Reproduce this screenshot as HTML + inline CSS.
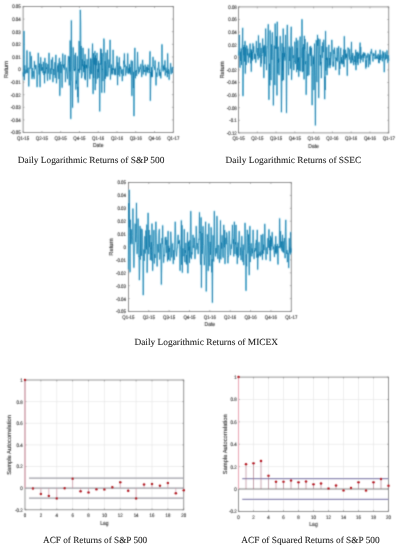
<!DOCTYPE html>
<html><head><meta charset="utf-8"><style>
html,body{margin:0;padding:0;background:#fff;width:400px;height:550px;overflow:hidden}
svg{display:block}
text{text-rendering:geometricPrecision}
</style></head><body>
<svg width="400" height="550" viewBox="0 0 400 550">
<defs><filter id="bl" x="0" y="0" width="400" height="550" filterUnits="userSpaceOnUse"><feConvolveMatrix order="3" kernelMatrix="0.02768 0.11101 0.02768 0.11101 0.44521 0.11101 0.02768 0.11101 0.02768" edgeMode="duplicate"/></filter></defs>
<rect width="400" height="550" fill="#fff"/>
<g filter="url(#bl)">
<rect x="23.1" y="6.5" width="150.20" height="126.00" fill="none" stroke="#7a7a7a" stroke-width="0.8"/>
<path d="M23.10,132.5v-1.5M23.10,6.5v1.5M41.88,132.5v-1.5M41.88,6.5v1.5M60.65,132.5v-1.5M60.65,6.5v1.5M79.43,132.5v-1.5M79.43,6.5v1.5M98.20,132.5v-1.5M98.20,6.5v1.5M116.98,132.5v-1.5M116.98,6.5v1.5M135.75,132.5v-1.5M135.75,6.5v1.5M154.53,132.5v-1.5M154.53,6.5v1.5M173.30,132.5v-1.5M173.30,6.5v1.5M23.1,6.50h1.5M173.3,6.50h-1.5M23.1,19.10h1.5M173.3,19.10h-1.5M23.1,31.70h1.5M173.3,31.70h-1.5M23.1,44.30h1.5M173.3,44.30h-1.5M23.1,56.90h1.5M173.3,56.90h-1.5M23.1,69.50h1.5M173.3,69.50h-1.5M23.1,82.10h1.5M173.3,82.10h-1.5M23.1,94.70h1.5M173.3,94.70h-1.5M23.1,107.30h1.5M173.3,107.30h-1.5M23.1,119.90h1.5M173.3,119.90h-1.5M23.1,132.50h1.5M173.3,132.50h-1.5" stroke="#7a7a7a" stroke-width="0.5" fill="none"/>
<polyline points="23.10,72.45 23.40,76.51 23.70,56.94 23.99,31.25 24.29,80.00 24.59,73.87 24.89,65.35 25.19,73.83 25.48,72.12 25.78,71.53 26.08,69.69 26.38,72.99 26.68,60.48 26.97,50.60 27.27,62.20 27.57,73.03 27.87,69.74 28.17,67.75 28.46,74.12 28.76,86.25 29.06,75.72 29.36,67.88 29.66,68.41 29.95,51.90 30.25,55.13 30.55,60.03 30.85,68.67 31.15,64.65 31.44,56.25 31.74,71.59 32.04,78.75 32.34,69.23 32.64,68.14 32.93,76.66 33.23,71.71 33.53,71.71 33.83,71.23 34.13,78.75 34.42,61.25 34.72,67.13 35.02,64.90 35.32,66.77 35.62,69.19 35.91,65.24 36.21,69.03 36.51,69.98 36.81,74.48 37.11,86.90 37.40,76.89 37.70,74.59 38.00,65.52 38.30,53.10 38.60,67.13 38.89,66.63 39.19,74.44 39.49,63.57 39.79,78.18 40.09,86.90 40.38,66.06 40.68,57.50 40.98,65.21 41.28,70.85 41.58,64.70 41.88,64.14 42.17,70.46 42.47,67.29 42.77,70.60 43.07,73.02 43.37,61.94 43.66,70.65 43.96,74.99 44.26,71.41 44.56,83.10 44.86,58.10 45.15,67.22 45.45,73.39 45.75,67.99 46.05,63.00 46.35,69.01 46.64,67.52 46.94,72.95 47.24,74.74 47.54,80.60 47.84,64.08 48.13,73.54 48.43,72.64 48.73,60.80 49.03,53.10 49.33,63.18 49.62,72.17 49.92,79.40 50.22,74.00 50.52,69.09 50.82,68.37 51.11,74.08 51.41,59.77 51.71,68.90 52.01,69.64 52.31,63.39 52.60,57.50 52.90,81.90 53.20,76.73 53.50,68.94 53.80,72.51 54.09,75.06 54.39,71.27 54.69,65.41 54.99,62.33 55.29,77.90 55.58,63.13 55.88,55.00 56.18,71.83 56.48,83.10 56.78,76.62 57.07,69.68 57.37,69.57 57.67,65.54 57.97,72.18 58.27,63.43 58.56,73.52 58.86,78.96 59.16,59.79 59.46,58.10 59.76,95.60 60.05,85.77 60.35,63.21 60.65,61.75 60.95,73.09 61.25,64.45 61.54,66.51 61.84,74.29 62.14,87.50 62.44,67.66 62.74,53.75 63.03,65.58 63.33,64.94 63.63,67.81 63.93,64.60 64.23,69.53 64.52,63.99 64.82,64.30 65.12,55.00 65.42,81.90 65.72,74.62 66.01,71.76 66.31,67.67 66.61,68.53 66.91,71.27 67.21,73.56 67.50,78.75 67.80,73.22 68.10,62.75 68.40,56.25 68.70,62.99 68.99,66.19 69.29,85.28 69.59,56.65 69.89,71.45 70.19,40.62 70.48,81.31 70.78,118.75 71.08,64.34 71.38,20.60 71.68,60.96 71.97,80.44 72.27,82.01 72.57,107.50 72.87,69.60 73.17,47.50 73.46,65.07 73.76,68.75 74.06,70.59 74.36,69.21 74.66,71.11 74.95,54.76 75.25,70.07 75.55,53.00 75.85,89.40 76.15,80.59 76.44,83.81 76.74,75.39 77.04,71.60 77.34,56.29 77.64,97.02 77.93,86.82 78.23,102.50 78.53,68.86 78.83,71.06 79.13,41.10 79.43,72.64 79.72,60.80 80.02,60.08 80.32,10.00 80.62,21.90 80.92,70.17 81.21,45.98 81.51,77.99 81.81,76.25 82.11,75.22 82.41,59.35 82.70,66.25 83.00,48.00 83.30,59.18 83.60,72.17 83.90,64.79 84.19,69.34 84.49,61.05 84.79,78.72 85.09,54.40 85.39,80.00 85.68,73.51 85.98,64.68 86.28,67.64 86.58,64.94 86.88,68.38 87.17,59.29 87.47,86.90 87.77,73.45 88.07,66.56 88.37,61.21 88.66,48.75 88.96,67.17 89.26,66.83 89.56,71.73 89.86,78.75 90.15,65.21 90.45,58.61 90.75,74.21 91.05,58.61 91.35,62.05 91.64,73.26 91.94,73.89 92.24,56.18 92.54,43.75 92.84,76.84 93.13,93.75 93.43,53.06 93.73,78.18 94.03,61.86 94.33,57.65 94.62,64.60 94.92,51.25 95.22,90.00 95.52,55.37 95.82,83.60 96.11,64.81 96.41,58.30 96.71,65.22 97.01,53.00 97.31,78.75 97.60,70.42 97.90,68.93 98.20,72.08 98.50,60.95 98.80,77.91 99.09,63.24 99.39,76.36 99.69,111.25 99.99,83.70 100.29,59.35 100.58,48.75 100.88,64.84 101.18,49.17 101.48,56.56 101.78,92.50 102.07,53.02 102.37,69.85 102.67,68.81 102.97,81.02 103.27,57.56 103.56,54.90 103.86,38.75 104.16,42.93 104.46,92.50 104.76,75.45 105.05,61.05 105.35,78.84 105.65,69.10 105.95,52.73 106.25,74.98 106.54,76.39 106.84,66.17 107.14,61.34 107.44,50.00 107.74,76.25 108.03,72.32 108.33,70.83 108.63,64.84 108.93,59.57 109.23,67.84 109.52,62.87 109.82,61.62 110.12,40.00 110.42,79.40 110.72,74.12 111.01,71.27 111.31,64.57 111.61,73.42 111.91,74.53 112.21,67.93 112.50,73.75 112.80,64.64 113.10,50.00 113.40,59.36 113.70,70.05 113.99,68.37 114.29,74.13 114.59,69.50 114.89,75.00 115.19,72.89 115.48,68.40 115.78,74.94 116.08,67.03 116.38,66.26 116.68,65.21 116.98,56.25 117.27,71.04 117.57,85.00 117.87,62.43 118.17,75.06 118.47,69.20 118.76,67.25 119.06,65.57 119.36,57.50 119.66,76.25 119.96,66.15 120.25,66.45 120.55,68.86 120.85,67.65 121.15,72.95 121.45,73.81 121.74,69.56 122.04,75.01 122.34,81.00 122.64,73.67 122.94,69.38 123.23,71.41 123.53,75.76 123.83,60.67 124.13,64.33 124.43,53.60 124.72,67.17 125.02,64.74 125.32,67.74 125.62,75.40 125.92,71.68 126.21,69.78 126.51,66.44 126.81,67.28 127.11,73.18 127.41,65.43 127.70,53.60 128.00,67.20 128.30,71.42 128.60,73.57 128.90,67.91 129.19,73.45 129.49,64.38 129.79,72.28 130.09,67.08 130.39,72.87 130.68,74.58 130.98,65.66 131.28,60.60 131.58,78.82 131.88,95.70 132.17,83.13 132.47,61.10 132.77,72.94 133.07,75.55 133.37,88.07 133.66,71.80 133.96,116.00 134.26,85.19 134.56,57.88 134.86,48.00 135.15,69.08 135.45,78.20 135.75,71.00 136.05,71.88 136.35,70.01 136.64,75.95 136.94,69.49 137.24,67.01 137.54,52.20 137.84,63.62 138.13,69.13 138.43,73.77 138.73,71.62 139.03,66.81 139.33,71.88 139.62,72.12 139.92,69.13 140.22,68.67 140.52,68.89 140.82,64.31 141.11,70.06 141.41,70.18 141.71,76.80 142.01,71.52 142.31,63.69 142.60,60.00 142.90,65.03 143.20,74.35 143.50,65.69 143.80,70.81 144.09,71.64 144.39,70.34 144.69,72.06 144.99,67.39 145.29,64.82 145.58,71.03 145.88,75.40 146.18,68.82 146.48,66.77 146.78,72.20 147.07,71.94 147.37,67.29 147.67,72.50 147.97,64.80 148.27,68.94 148.56,69.76 148.86,68.45 149.16,73.03 149.46,71.46 149.76,60.62 150.05,51.50 150.35,100.60 150.65,83.80 150.95,71.95 151.25,77.25 151.54,67.14 151.84,76.66 152.14,70.12 152.44,76.80 152.74,64.35 153.03,57.10 153.33,65.85 153.63,65.85 153.93,65.74 154.23,67.63 154.53,67.21 154.82,69.92 155.12,60.60 155.42,69.42 155.72,74.97 156.02,85.20 156.31,75.99 156.61,72.64 156.91,76.87 157.21,72.58 157.51,68.58 157.80,69.62 158.10,68.00 158.40,67.14 158.70,62.00 159.00,70.12 159.29,75.60 159.59,69.68 159.89,74.44 160.19,76.20 160.49,72.09 160.78,78.20 161.08,72.36 161.38,67.62 161.68,64.78 161.98,44.50 162.27,59.49 162.57,68.60 162.87,70.11 163.17,71.21 163.47,66.28 163.76,69.47 164.06,64.84 164.36,70.22 164.66,68.51 164.96,60.60 165.25,75.40 165.55,71.02 165.85,67.68 166.15,68.81 166.45,71.06 166.74,72.72 167.04,70.83 167.34,77.01 167.64,53.60 167.94,67.97 168.23,73.94 168.53,69.05 168.83,70.53 169.13,79.60 169.43,73.09 169.72,72.38 170.02,70.13 170.32,69.85 170.62,63.40 170.92,70.46 171.21,74.00 171.51,69.87 171.81,69.54 172.11,67.32 172.41,72.96 172.70,67.29 173.00,67.79 173.30,67.59" fill="none" stroke="#90d8f0" stroke-width="2.0" stroke-opacity="0.6" stroke-linejoin="round"/>
<polyline points="23.10,72.45 23.40,76.51 23.70,56.94 23.99,31.25 24.29,80.00 24.59,73.87 24.89,65.35 25.19,73.83 25.48,72.12 25.78,71.53 26.08,69.69 26.38,72.99 26.68,60.48 26.97,50.60 27.27,62.20 27.57,73.03 27.87,69.74 28.17,67.75 28.46,74.12 28.76,86.25 29.06,75.72 29.36,67.88 29.66,68.41 29.95,51.90 30.25,55.13 30.55,60.03 30.85,68.67 31.15,64.65 31.44,56.25 31.74,71.59 32.04,78.75 32.34,69.23 32.64,68.14 32.93,76.66 33.23,71.71 33.53,71.71 33.83,71.23 34.13,78.75 34.42,61.25 34.72,67.13 35.02,64.90 35.32,66.77 35.62,69.19 35.91,65.24 36.21,69.03 36.51,69.98 36.81,74.48 37.11,86.90 37.40,76.89 37.70,74.59 38.00,65.52 38.30,53.10 38.60,67.13 38.89,66.63 39.19,74.44 39.49,63.57 39.79,78.18 40.09,86.90 40.38,66.06 40.68,57.50 40.98,65.21 41.28,70.85 41.58,64.70 41.88,64.14 42.17,70.46 42.47,67.29 42.77,70.60 43.07,73.02 43.37,61.94 43.66,70.65 43.96,74.99 44.26,71.41 44.56,83.10 44.86,58.10 45.15,67.22 45.45,73.39 45.75,67.99 46.05,63.00 46.35,69.01 46.64,67.52 46.94,72.95 47.24,74.74 47.54,80.60 47.84,64.08 48.13,73.54 48.43,72.64 48.73,60.80 49.03,53.10 49.33,63.18 49.62,72.17 49.92,79.40 50.22,74.00 50.52,69.09 50.82,68.37 51.11,74.08 51.41,59.77 51.71,68.90 52.01,69.64 52.31,63.39 52.60,57.50 52.90,81.90 53.20,76.73 53.50,68.94 53.80,72.51 54.09,75.06 54.39,71.27 54.69,65.41 54.99,62.33 55.29,77.90 55.58,63.13 55.88,55.00 56.18,71.83 56.48,83.10 56.78,76.62 57.07,69.68 57.37,69.57 57.67,65.54 57.97,72.18 58.27,63.43 58.56,73.52 58.86,78.96 59.16,59.79 59.46,58.10 59.76,95.60 60.05,85.77 60.35,63.21 60.65,61.75 60.95,73.09 61.25,64.45 61.54,66.51 61.84,74.29 62.14,87.50 62.44,67.66 62.74,53.75 63.03,65.58 63.33,64.94 63.63,67.81 63.93,64.60 64.23,69.53 64.52,63.99 64.82,64.30 65.12,55.00 65.42,81.90 65.72,74.62 66.01,71.76 66.31,67.67 66.61,68.53 66.91,71.27 67.21,73.56 67.50,78.75 67.80,73.22 68.10,62.75 68.40,56.25 68.70,62.99 68.99,66.19 69.29,85.28 69.59,56.65 69.89,71.45 70.19,40.62 70.48,81.31 70.78,118.75 71.08,64.34 71.38,20.60 71.68,60.96 71.97,80.44 72.27,82.01 72.57,107.50 72.87,69.60 73.17,47.50 73.46,65.07 73.76,68.75 74.06,70.59 74.36,69.21 74.66,71.11 74.95,54.76 75.25,70.07 75.55,53.00 75.85,89.40 76.15,80.59 76.44,83.81 76.74,75.39 77.04,71.60 77.34,56.29 77.64,97.02 77.93,86.82 78.23,102.50 78.53,68.86 78.83,71.06 79.13,41.10 79.43,72.64 79.72,60.80 80.02,60.08 80.32,10.00 80.62,21.90 80.92,70.17 81.21,45.98 81.51,77.99 81.81,76.25 82.11,75.22 82.41,59.35 82.70,66.25 83.00,48.00 83.30,59.18 83.60,72.17 83.90,64.79 84.19,69.34 84.49,61.05 84.79,78.72 85.09,54.40 85.39,80.00 85.68,73.51 85.98,64.68 86.28,67.64 86.58,64.94 86.88,68.38 87.17,59.29 87.47,86.90 87.77,73.45 88.07,66.56 88.37,61.21 88.66,48.75 88.96,67.17 89.26,66.83 89.56,71.73 89.86,78.75 90.15,65.21 90.45,58.61 90.75,74.21 91.05,58.61 91.35,62.05 91.64,73.26 91.94,73.89 92.24,56.18 92.54,43.75 92.84,76.84 93.13,93.75 93.43,53.06 93.73,78.18 94.03,61.86 94.33,57.65 94.62,64.60 94.92,51.25 95.22,90.00 95.52,55.37 95.82,83.60 96.11,64.81 96.41,58.30 96.71,65.22 97.01,53.00 97.31,78.75 97.60,70.42 97.90,68.93 98.20,72.08 98.50,60.95 98.80,77.91 99.09,63.24 99.39,76.36 99.69,111.25 99.99,83.70 100.29,59.35 100.58,48.75 100.88,64.84 101.18,49.17 101.48,56.56 101.78,92.50 102.07,53.02 102.37,69.85 102.67,68.81 102.97,81.02 103.27,57.56 103.56,54.90 103.86,38.75 104.16,42.93 104.46,92.50 104.76,75.45 105.05,61.05 105.35,78.84 105.65,69.10 105.95,52.73 106.25,74.98 106.54,76.39 106.84,66.17 107.14,61.34 107.44,50.00 107.74,76.25 108.03,72.32 108.33,70.83 108.63,64.84 108.93,59.57 109.23,67.84 109.52,62.87 109.82,61.62 110.12,40.00 110.42,79.40 110.72,74.12 111.01,71.27 111.31,64.57 111.61,73.42 111.91,74.53 112.21,67.93 112.50,73.75 112.80,64.64 113.10,50.00 113.40,59.36 113.70,70.05 113.99,68.37 114.29,74.13 114.59,69.50 114.89,75.00 115.19,72.89 115.48,68.40 115.78,74.94 116.08,67.03 116.38,66.26 116.68,65.21 116.98,56.25 117.27,71.04 117.57,85.00 117.87,62.43 118.17,75.06 118.47,69.20 118.76,67.25 119.06,65.57 119.36,57.50 119.66,76.25 119.96,66.15 120.25,66.45 120.55,68.86 120.85,67.65 121.15,72.95 121.45,73.81 121.74,69.56 122.04,75.01 122.34,81.00 122.64,73.67 122.94,69.38 123.23,71.41 123.53,75.76 123.83,60.67 124.13,64.33 124.43,53.60 124.72,67.17 125.02,64.74 125.32,67.74 125.62,75.40 125.92,71.68 126.21,69.78 126.51,66.44 126.81,67.28 127.11,73.18 127.41,65.43 127.70,53.60 128.00,67.20 128.30,71.42 128.60,73.57 128.90,67.91 129.19,73.45 129.49,64.38 129.79,72.28 130.09,67.08 130.39,72.87 130.68,74.58 130.98,65.66 131.28,60.60 131.58,78.82 131.88,95.70 132.17,83.13 132.47,61.10 132.77,72.94 133.07,75.55 133.37,88.07 133.66,71.80 133.96,116.00 134.26,85.19 134.56,57.88 134.86,48.00 135.15,69.08 135.45,78.20 135.75,71.00 136.05,71.88 136.35,70.01 136.64,75.95 136.94,69.49 137.24,67.01 137.54,52.20 137.84,63.62 138.13,69.13 138.43,73.77 138.73,71.62 139.03,66.81 139.33,71.88 139.62,72.12 139.92,69.13 140.22,68.67 140.52,68.89 140.82,64.31 141.11,70.06 141.41,70.18 141.71,76.80 142.01,71.52 142.31,63.69 142.60,60.00 142.90,65.03 143.20,74.35 143.50,65.69 143.80,70.81 144.09,71.64 144.39,70.34 144.69,72.06 144.99,67.39 145.29,64.82 145.58,71.03 145.88,75.40 146.18,68.82 146.48,66.77 146.78,72.20 147.07,71.94 147.37,67.29 147.67,72.50 147.97,64.80 148.27,68.94 148.56,69.76 148.86,68.45 149.16,73.03 149.46,71.46 149.76,60.62 150.05,51.50 150.35,100.60 150.65,83.80 150.95,71.95 151.25,77.25 151.54,67.14 151.84,76.66 152.14,70.12 152.44,76.80 152.74,64.35 153.03,57.10 153.33,65.85 153.63,65.85 153.93,65.74 154.23,67.63 154.53,67.21 154.82,69.92 155.12,60.60 155.42,69.42 155.72,74.97 156.02,85.20 156.31,75.99 156.61,72.64 156.91,76.87 157.21,72.58 157.51,68.58 157.80,69.62 158.10,68.00 158.40,67.14 158.70,62.00 159.00,70.12 159.29,75.60 159.59,69.68 159.89,74.44 160.19,76.20 160.49,72.09 160.78,78.20 161.08,72.36 161.38,67.62 161.68,64.78 161.98,44.50 162.27,59.49 162.57,68.60 162.87,70.11 163.17,71.21 163.47,66.28 163.76,69.47 164.06,64.84 164.36,70.22 164.66,68.51 164.96,60.60 165.25,75.40 165.55,71.02 165.85,67.68 166.15,68.81 166.45,71.06 166.74,72.72 167.04,70.83 167.34,77.01 167.64,53.60 167.94,67.97 168.23,73.94 168.53,69.05 168.83,70.53 169.13,79.60 169.43,73.09 169.72,72.38 170.02,70.13 170.32,69.85 170.62,63.40 170.92,70.46 171.21,74.00 171.51,69.87 171.81,69.54 172.11,67.32 172.41,72.96 172.70,67.29 173.00,67.79 173.30,67.59" fill="none" stroke="#0070a2" stroke-width="0.85" stroke-opacity="0.7" stroke-linejoin="round"/>
<rect x="238.5" y="6.9" width="150.25" height="126.00" fill="none" stroke="#7a7a7a" stroke-width="0.8"/>
<path d="M238.50,132.9v-1.5M238.50,6.9v1.5M257.28,132.9v-1.5M257.28,6.9v1.5M276.06,132.9v-1.5M276.06,6.9v1.5M294.84,132.9v-1.5M294.84,6.9v1.5M313.62,132.9v-1.5M313.62,6.9v1.5M332.41,132.9v-1.5M332.41,6.9v1.5M351.19,132.9v-1.5M351.19,6.9v1.5M369.97,132.9v-1.5M369.97,6.9v1.5M388.75,132.9v-1.5M388.75,6.9v1.5M238.5,6.90h1.5M388.75,6.90h-1.5M238.5,19.50h1.5M388.75,19.50h-1.5M238.5,32.10h1.5M388.75,32.10h-1.5M238.5,44.70h1.5M388.75,44.70h-1.5M238.5,57.30h1.5M388.75,57.30h-1.5M238.5,69.90h1.5M388.75,69.90h-1.5M238.5,82.50h1.5M388.75,82.50h-1.5M238.5,95.10h1.5M388.75,95.10h-1.5M238.5,107.70h1.5M388.75,107.70h-1.5M238.5,120.30h1.5M388.75,120.30h-1.5M238.5,132.90h1.5M388.75,132.90h-1.5" stroke="#7a7a7a" stroke-width="0.5" fill="none"/>
<polyline points="238.50,55.59 238.80,50.71 239.10,50.01 239.39,35.00 239.69,59.73 239.99,67.50 240.29,51.70 240.59,60.74 240.88,56.78 241.18,48.48 241.48,64.91 241.78,50.40 242.08,49.88 242.38,43.28 242.67,28.10 242.97,95.90 243.27,69.80 243.57,46.94 243.87,55.32 244.16,45.05 244.46,61.62 244.76,51.96 245.06,41.25 245.36,73.40 245.65,47.50 245.95,58.40 246.25,64.91 246.55,45.65 246.85,45.93 247.15,47.59 247.44,55.40 247.74,48.75 248.04,53.85 248.34,62.50 248.64,54.40 248.93,54.73 249.23,52.91 249.53,57.47 249.83,48.19 250.13,43.75 250.42,52.07 250.72,63.29 251.02,49.22 251.32,71.50 251.62,50.23 251.92,58.88 252.21,52.14 252.51,60.48 252.81,43.62 253.11,43.75 253.41,52.35 253.70,46.38 254.00,54.05 254.30,59.06 254.60,53.68 254.90,57.83 255.19,58.95 255.49,54.43 255.79,62.50 256.09,49.84 256.39,41.25 256.69,52.24 256.98,52.32 257.28,52.62 257.58,55.72 257.88,48.01 258.18,59.40 258.47,35.60 258.77,50.53 259.07,53.35 259.37,57.72 259.67,51.40 259.96,43.10 260.26,50.51 260.56,52.51 260.86,66.50 261.16,47.89 261.45,63.33 261.75,55.04 262.05,55.56 262.35,47.50 262.65,38.75 262.95,52.94 263.24,52.28 263.54,46.68 263.84,77.75 264.14,45.09 264.44,55.20 264.73,63.94 265.03,45.89 265.33,56.46 265.63,28.75 265.93,46.15 266.22,46.35 266.52,70.00 266.82,61.25 267.12,49.48 267.42,46.05 267.72,45.83 268.01,37.75 268.31,24.40 268.61,62.26 268.91,99.60 269.21,72.94 269.50,63.70 269.80,85.39 270.10,30.60 270.40,47.78 270.70,75.49 270.99,80.00 271.29,70.41 271.59,44.37 271.89,59.78 272.19,32.94 272.49,32.50 272.78,45.61 273.08,65.49 273.38,105.25 273.68,80.82 273.98,56.69 274.27,45.65 274.57,64.64 274.87,85.00 275.17,23.75 275.47,48.57 275.76,47.13 276.06,48.58 276.36,48.65 276.66,36.27 276.96,95.25 277.25,21.90 277.55,49.00 277.85,73.60 278.15,46.80 278.45,62.62 278.75,58.62 279.04,75.00 279.34,62.47 279.64,61.98 279.94,46.00 280.24,36.25 280.53,51.03 280.83,51.14 281.13,71.31 281.43,112.10 281.73,85.82 282.02,43.38 282.32,81.04 282.62,52.98 282.92,70.50 283.22,28.75 283.52,80.00 283.81,46.93 284.11,51.18 284.41,57.23 284.71,52.87 285.01,60.51 285.30,53.63 285.60,35.00 285.90,52.18 286.20,57.98 286.50,112.75 286.79,63.97 287.09,30.13 287.39,25.00 287.69,41.65 287.99,54.05 288.29,67.83 288.58,75.00 288.88,62.00 289.18,46.67 289.48,60.57 289.78,60.99 290.07,47.76 290.37,68.62 290.67,62.85 290.97,35.64 291.27,26.90 291.56,79.60 291.86,69.04 292.16,65.35 292.46,46.69 292.76,49.11 293.06,58.21 293.35,55.26 293.65,69.77 293.95,70.00 294.25,61.29 294.55,61.72 294.84,41.85 295.14,59.64 295.44,63.79 295.74,55.97 296.04,48.85 296.33,38.10 296.63,71.97 296.93,58.94 297.23,47.99 297.53,69.73 297.82,40.59 298.12,61.92 298.42,57.75 298.72,76.50 299.02,57.18 299.32,70.61 299.61,60.36 299.91,39.49 300.21,36.68 300.51,53.96 300.81,71.16 301.10,58.68 301.40,58.04 301.70,47.37 302.00,19.40 302.30,44.92 302.59,72.00 302.89,47.24 303.19,69.40 303.49,71.16 303.79,44.10 304.09,79.13 304.38,36.00 304.68,49.26 304.98,39.07 305.28,64.34 305.58,63.41 305.87,61.15 306.17,94.60 306.47,79.71 306.77,51.12 307.07,50.46 307.36,42.50 307.66,75.99 307.96,65.18 308.26,53.77 308.56,62.65 308.86,75.00 309.15,65.48 309.45,51.82 309.75,47.36 310.05,46.75 310.35,55.70 310.64,46.25 310.94,54.97 311.24,66.18 311.54,47.85 311.84,61.20 312.13,105.00 312.43,72.34 312.73,66.20 313.03,55.62 313.33,64.19 313.62,57.29 313.92,90.00 314.22,67.26 314.52,43.75 314.82,83.86 315.12,89.64 315.41,125.25 315.71,75.85 316.01,56.46 316.31,40.26 316.61,69.24 316.90,82.00 317.20,54.94 317.50,35.00 317.80,45.82 318.10,41.70 318.39,38.65 318.69,97.75 318.99,60.54 319.29,53.85 319.59,51.24 319.89,39.40 320.18,65.46 320.48,54.89 320.78,63.83 321.08,62.15 321.38,78.00 321.67,63.89 321.97,46.14 322.27,57.82 322.57,42.50 322.87,42.78 323.16,49.65 323.46,52.16 323.76,39.86 324.06,44.37 324.36,68.98 324.66,99.00 324.95,76.70 325.25,90.02 325.55,31.25 325.85,70.61 326.15,58.14 326.44,59.92 326.74,47.19 327.04,75.00 327.34,57.69 327.64,62.63 327.93,67.70 328.23,61.01 328.53,54.71 328.83,45.00 329.13,65.50 329.43,64.41 329.72,58.04 330.02,67.75 330.32,52.05 330.62,65.15 330.92,59.50 331.21,56.78 331.51,54.78 331.81,40.00 332.11,48.75 332.41,50.73 332.70,50.79 333.00,66.50 333.30,61.59 333.60,66.15 333.90,49.71 334.19,54.01 334.49,47.80 334.79,52.97 335.09,58.22 335.39,57.73 335.69,69.90 335.98,60.70 336.28,57.79 336.58,60.73 336.88,55.10 337.18,47.94 337.47,54.47 337.77,61.45 338.07,56.83 338.37,54.12 338.67,46.40 338.96,61.36 339.26,74.80 339.56,61.34 339.86,68.82 340.16,56.07 340.46,51.26 340.75,48.11 341.05,63.71 341.35,56.98 341.65,62.69 341.95,59.68 342.24,64.20 342.54,63.97 342.84,55.21 343.14,58.88 343.44,63.85 343.73,49.52 344.03,66.80 344.33,36.40 344.63,53.79 344.93,55.94 345.23,59.33 345.52,49.85 345.82,57.68 346.12,53.45 346.42,57.86 346.72,54.11 347.01,61.98 347.31,75.60 347.61,54.13 347.91,47.80 348.21,48.44 348.50,48.00 348.80,56.69 349.10,57.33 349.40,59.49 349.70,49.30 350.00,57.01 350.29,57.89 350.59,63.08 350.89,56.83 351.19,53.16 351.49,42.00 351.78,62.70 352.08,55.37 352.38,60.34 352.68,53.04 352.98,53.72 353.27,59.77 353.57,64.95 353.87,58.93 354.17,58.59 354.47,55.83 354.76,61.91 355.06,59.58 355.36,64.61 355.66,49.90 355.96,69.90 356.26,60.27 356.55,53.16 356.85,52.05 357.15,62.60 357.45,60.68 357.75,52.11 358.04,64.76 358.34,58.32 358.64,53.29 358.94,58.92 359.24,57.01 359.53,54.07 359.83,49.18 360.13,42.80 360.43,62.70 360.73,47.05 361.03,59.46 361.32,59.65 361.62,55.55 361.92,57.71 362.22,56.30 362.52,54.40 362.81,56.08 363.11,61.76 363.41,52.63 363.71,58.04 364.01,57.86 364.30,52.80 364.60,55.97 364.90,53.35 365.20,54.65 365.50,59.36 365.80,68.40 366.09,60.28 366.39,66.87 366.69,55.54 366.99,57.69 367.29,56.61 367.58,56.12 367.88,53.50 368.18,59.86 368.48,67.00 368.78,63.22 369.07,54.18 369.37,60.38 369.67,55.37 369.97,64.40 370.27,56.16 370.56,54.52 370.86,51.67 371.16,53.50 371.46,49.20 371.76,52.40 372.06,53.94 372.35,55.47 372.65,56.78 372.95,61.30 373.25,53.15 373.55,55.96 373.84,54.99 374.14,53.63 374.44,54.24 374.74,55.12 375.04,59.02 375.33,56.83 375.63,50.60 375.93,58.77 376.23,57.98 376.53,56.75 376.83,58.26 377.12,55.22 377.42,58.89 377.72,58.50 378.02,56.23 378.32,54.11 378.61,62.70 378.91,57.56 379.21,63.06 379.51,55.35 379.81,59.94 380.10,49.90 380.40,58.13 380.70,60.08 381.00,54.58 381.30,56.95 381.60,57.87 381.89,57.71 382.19,59.50 382.49,61.16 382.79,51.30 383.09,58.34 383.38,55.89 383.68,52.60 383.98,62.04 384.28,72.00 384.58,63.31 384.87,55.81 385.17,52.41 385.47,59.67 385.77,54.39 386.07,54.64 386.37,56.55 386.66,58.80 386.96,50.60 387.26,54.11 387.56,57.77 387.86,62.70 388.15,55.10 388.45,55.92 388.75,60.82" fill="none" stroke="#90d8f0" stroke-width="2.0" stroke-opacity="0.6" stroke-linejoin="round"/>
<polyline points="238.50,55.59 238.80,50.71 239.10,50.01 239.39,35.00 239.69,59.73 239.99,67.50 240.29,51.70 240.59,60.74 240.88,56.78 241.18,48.48 241.48,64.91 241.78,50.40 242.08,49.88 242.38,43.28 242.67,28.10 242.97,95.90 243.27,69.80 243.57,46.94 243.87,55.32 244.16,45.05 244.46,61.62 244.76,51.96 245.06,41.25 245.36,73.40 245.65,47.50 245.95,58.40 246.25,64.91 246.55,45.65 246.85,45.93 247.15,47.59 247.44,55.40 247.74,48.75 248.04,53.85 248.34,62.50 248.64,54.40 248.93,54.73 249.23,52.91 249.53,57.47 249.83,48.19 250.13,43.75 250.42,52.07 250.72,63.29 251.02,49.22 251.32,71.50 251.62,50.23 251.92,58.88 252.21,52.14 252.51,60.48 252.81,43.62 253.11,43.75 253.41,52.35 253.70,46.38 254.00,54.05 254.30,59.06 254.60,53.68 254.90,57.83 255.19,58.95 255.49,54.43 255.79,62.50 256.09,49.84 256.39,41.25 256.69,52.24 256.98,52.32 257.28,52.62 257.58,55.72 257.88,48.01 258.18,59.40 258.47,35.60 258.77,50.53 259.07,53.35 259.37,57.72 259.67,51.40 259.96,43.10 260.26,50.51 260.56,52.51 260.86,66.50 261.16,47.89 261.45,63.33 261.75,55.04 262.05,55.56 262.35,47.50 262.65,38.75 262.95,52.94 263.24,52.28 263.54,46.68 263.84,77.75 264.14,45.09 264.44,55.20 264.73,63.94 265.03,45.89 265.33,56.46 265.63,28.75 265.93,46.15 266.22,46.35 266.52,70.00 266.82,61.25 267.12,49.48 267.42,46.05 267.72,45.83 268.01,37.75 268.31,24.40 268.61,62.26 268.91,99.60 269.21,72.94 269.50,63.70 269.80,85.39 270.10,30.60 270.40,47.78 270.70,75.49 270.99,80.00 271.29,70.41 271.59,44.37 271.89,59.78 272.19,32.94 272.49,32.50 272.78,45.61 273.08,65.49 273.38,105.25 273.68,80.82 273.98,56.69 274.27,45.65 274.57,64.64 274.87,85.00 275.17,23.75 275.47,48.57 275.76,47.13 276.06,48.58 276.36,48.65 276.66,36.27 276.96,95.25 277.25,21.90 277.55,49.00 277.85,73.60 278.15,46.80 278.45,62.62 278.75,58.62 279.04,75.00 279.34,62.47 279.64,61.98 279.94,46.00 280.24,36.25 280.53,51.03 280.83,51.14 281.13,71.31 281.43,112.10 281.73,85.82 282.02,43.38 282.32,81.04 282.62,52.98 282.92,70.50 283.22,28.75 283.52,80.00 283.81,46.93 284.11,51.18 284.41,57.23 284.71,52.87 285.01,60.51 285.30,53.63 285.60,35.00 285.90,52.18 286.20,57.98 286.50,112.75 286.79,63.97 287.09,30.13 287.39,25.00 287.69,41.65 287.99,54.05 288.29,67.83 288.58,75.00 288.88,62.00 289.18,46.67 289.48,60.57 289.78,60.99 290.07,47.76 290.37,68.62 290.67,62.85 290.97,35.64 291.27,26.90 291.56,79.60 291.86,69.04 292.16,65.35 292.46,46.69 292.76,49.11 293.06,58.21 293.35,55.26 293.65,69.77 293.95,70.00 294.25,61.29 294.55,61.72 294.84,41.85 295.14,59.64 295.44,63.79 295.74,55.97 296.04,48.85 296.33,38.10 296.63,71.97 296.93,58.94 297.23,47.99 297.53,69.73 297.82,40.59 298.12,61.92 298.42,57.75 298.72,76.50 299.02,57.18 299.32,70.61 299.61,60.36 299.91,39.49 300.21,36.68 300.51,53.96 300.81,71.16 301.10,58.68 301.40,58.04 301.70,47.37 302.00,19.40 302.30,44.92 302.59,72.00 302.89,47.24 303.19,69.40 303.49,71.16 303.79,44.10 304.09,79.13 304.38,36.00 304.68,49.26 304.98,39.07 305.28,64.34 305.58,63.41 305.87,61.15 306.17,94.60 306.47,79.71 306.77,51.12 307.07,50.46 307.36,42.50 307.66,75.99 307.96,65.18 308.26,53.77 308.56,62.65 308.86,75.00 309.15,65.48 309.45,51.82 309.75,47.36 310.05,46.75 310.35,55.70 310.64,46.25 310.94,54.97 311.24,66.18 311.54,47.85 311.84,61.20 312.13,105.00 312.43,72.34 312.73,66.20 313.03,55.62 313.33,64.19 313.62,57.29 313.92,90.00 314.22,67.26 314.52,43.75 314.82,83.86 315.12,89.64 315.41,125.25 315.71,75.85 316.01,56.46 316.31,40.26 316.61,69.24 316.90,82.00 317.20,54.94 317.50,35.00 317.80,45.82 318.10,41.70 318.39,38.65 318.69,97.75 318.99,60.54 319.29,53.85 319.59,51.24 319.89,39.40 320.18,65.46 320.48,54.89 320.78,63.83 321.08,62.15 321.38,78.00 321.67,63.89 321.97,46.14 322.27,57.82 322.57,42.50 322.87,42.78 323.16,49.65 323.46,52.16 323.76,39.86 324.06,44.37 324.36,68.98 324.66,99.00 324.95,76.70 325.25,90.02 325.55,31.25 325.85,70.61 326.15,58.14 326.44,59.92 326.74,47.19 327.04,75.00 327.34,57.69 327.64,62.63 327.93,67.70 328.23,61.01 328.53,54.71 328.83,45.00 329.13,65.50 329.43,64.41 329.72,58.04 330.02,67.75 330.32,52.05 330.62,65.15 330.92,59.50 331.21,56.78 331.51,54.78 331.81,40.00 332.11,48.75 332.41,50.73 332.70,50.79 333.00,66.50 333.30,61.59 333.60,66.15 333.90,49.71 334.19,54.01 334.49,47.80 334.79,52.97 335.09,58.22 335.39,57.73 335.69,69.90 335.98,60.70 336.28,57.79 336.58,60.73 336.88,55.10 337.18,47.94 337.47,54.47 337.77,61.45 338.07,56.83 338.37,54.12 338.67,46.40 338.96,61.36 339.26,74.80 339.56,61.34 339.86,68.82 340.16,56.07 340.46,51.26 340.75,48.11 341.05,63.71 341.35,56.98 341.65,62.69 341.95,59.68 342.24,64.20 342.54,63.97 342.84,55.21 343.14,58.88 343.44,63.85 343.73,49.52 344.03,66.80 344.33,36.40 344.63,53.79 344.93,55.94 345.23,59.33 345.52,49.85 345.82,57.68 346.12,53.45 346.42,57.86 346.72,54.11 347.01,61.98 347.31,75.60 347.61,54.13 347.91,47.80 348.21,48.44 348.50,48.00 348.80,56.69 349.10,57.33 349.40,59.49 349.70,49.30 350.00,57.01 350.29,57.89 350.59,63.08 350.89,56.83 351.19,53.16 351.49,42.00 351.78,62.70 352.08,55.37 352.38,60.34 352.68,53.04 352.98,53.72 353.27,59.77 353.57,64.95 353.87,58.93 354.17,58.59 354.47,55.83 354.76,61.91 355.06,59.58 355.36,64.61 355.66,49.90 355.96,69.90 356.26,60.27 356.55,53.16 356.85,52.05 357.15,62.60 357.45,60.68 357.75,52.11 358.04,64.76 358.34,58.32 358.64,53.29 358.94,58.92 359.24,57.01 359.53,54.07 359.83,49.18 360.13,42.80 360.43,62.70 360.73,47.05 361.03,59.46 361.32,59.65 361.62,55.55 361.92,57.71 362.22,56.30 362.52,54.40 362.81,56.08 363.11,61.76 363.41,52.63 363.71,58.04 364.01,57.86 364.30,52.80 364.60,55.97 364.90,53.35 365.20,54.65 365.50,59.36 365.80,68.40 366.09,60.28 366.39,66.87 366.69,55.54 366.99,57.69 367.29,56.61 367.58,56.12 367.88,53.50 368.18,59.86 368.48,67.00 368.78,63.22 369.07,54.18 369.37,60.38 369.67,55.37 369.97,64.40 370.27,56.16 370.56,54.52 370.86,51.67 371.16,53.50 371.46,49.20 371.76,52.40 372.06,53.94 372.35,55.47 372.65,56.78 372.95,61.30 373.25,53.15 373.55,55.96 373.84,54.99 374.14,53.63 374.44,54.24 374.74,55.12 375.04,59.02 375.33,56.83 375.63,50.60 375.93,58.77 376.23,57.98 376.53,56.75 376.83,58.26 377.12,55.22 377.42,58.89 377.72,58.50 378.02,56.23 378.32,54.11 378.61,62.70 378.91,57.56 379.21,63.06 379.51,55.35 379.81,59.94 380.10,49.90 380.40,58.13 380.70,60.08 381.00,54.58 381.30,56.95 381.60,57.87 381.89,57.71 382.19,59.50 382.49,61.16 382.79,51.30 383.09,58.34 383.38,55.89 383.68,52.60 383.98,62.04 384.28,72.00 384.58,63.31 384.87,55.81 385.17,52.41 385.47,59.67 385.77,54.39 386.07,54.64 386.37,56.55 386.66,58.80 386.96,50.60 387.26,54.11 387.56,57.77 387.86,62.70 388.15,55.10 388.45,55.92 388.75,60.82" fill="none" stroke="#0070a2" stroke-width="0.85" stroke-opacity="0.7" stroke-linejoin="round"/>
<rect x="128.4" y="182.5" width="162.85" height="129.00" fill="none" stroke="#7a7a7a" stroke-width="0.8"/>
<path d="M128.40,311.5v-1.5M128.40,182.5v1.5M148.76,311.5v-1.5M148.76,182.5v1.5M169.11,311.5v-1.5M169.11,182.5v1.5M189.47,311.5v-1.5M189.47,182.5v1.5M209.82,311.5v-1.5M209.82,182.5v1.5M230.18,311.5v-1.5M230.18,182.5v1.5M250.54,311.5v-1.5M250.54,182.5v1.5M270.89,311.5v-1.5M270.89,182.5v1.5M291.25,311.5v-1.5M291.25,182.5v1.5M128.4,182.50h1.5M291.25,182.50h-1.5M128.4,195.40h1.5M291.25,195.40h-1.5M128.4,208.30h1.5M291.25,208.30h-1.5M128.4,221.20h1.5M291.25,221.20h-1.5M128.4,234.10h1.5M291.25,234.10h-1.5M128.4,247.00h1.5M291.25,247.00h-1.5M128.4,259.90h1.5M291.25,259.90h-1.5M128.4,272.80h1.5M291.25,272.80h-1.5M128.4,285.70h1.5M291.25,285.70h-1.5M128.4,298.60h1.5M291.25,298.60h-1.5M128.4,311.50h1.5M291.25,311.50h-1.5" stroke="#7a7a7a" stroke-width="0.5" fill="none"/>
<polyline points="128.40,269.41 128.72,203.05 129.05,227.27 129.37,190.00 129.69,232.25 130.02,271.90 130.34,219.75 130.66,244.22 130.98,237.90 131.31,229.40 131.63,242.67 131.95,243.48 132.28,243.97 132.60,235.71 132.92,208.75 133.25,236.83 133.57,256.12 133.89,267.50 134.22,256.79 134.54,245.12 134.86,241.85 135.19,223.75 135.51,240.37 135.83,242.03 136.15,234.61 136.48,203.00 136.80,241.44 137.12,253.75 137.45,244.62 137.77,242.39 138.09,218.75 138.42,239.03 138.74,256.61 139.06,255.92 139.39,280.00 139.71,265.92 140.03,226.13 140.36,259.59 140.68,235.10 141.00,228.61 141.32,250.47 141.65,255.86 141.97,229.40 142.29,233.06 142.62,247.34 142.94,256.50 143.26,295.00 143.59,261.04 143.91,249.48 144.23,260.77 144.56,244.54 144.88,236.32 145.20,253.48 145.53,245.28 145.85,230.60 146.17,238.75 146.49,249.44 146.82,224.72 147.14,272.50 147.46,253.61 147.79,228.19 148.11,213.00 148.43,228.87 148.76,254.08 149.08,230.00 149.40,240.26 149.73,247.20 150.05,235.00 150.37,260.00 150.69,247.48 151.02,249.36 151.34,242.19 151.66,260.66 151.99,223.75 152.31,249.94 152.63,270.60 152.96,260.87 153.28,246.79 153.60,243.35 153.93,230.23 154.25,263.36 154.57,254.30 154.90,254.28 155.22,257.96 155.54,237.92 155.86,221.90 156.19,232.76 156.51,239.72 156.83,259.18 157.16,266.25 157.48,251.44 157.80,244.06 158.13,249.09 158.45,252.43 158.77,235.03 159.10,230.43 159.42,229.40 159.74,259.35 160.07,254.98 160.39,249.35 160.71,243.43 161.03,254.65 161.36,284.40 161.68,264.56 162.00,238.23 162.33,244.08 162.65,225.60 162.97,246.16 163.30,248.81 163.62,262.52 163.94,256.23 164.27,254.81 164.59,256.25 164.91,246.20 165.24,237.50 165.56,244.64 165.88,237.05 166.20,252.84 166.53,252.57 166.85,239.89 167.17,248.61 167.50,261.25 167.82,244.43 168.14,231.25 168.47,259.62 168.79,245.77 169.11,251.74 169.44,247.95 169.76,257.74 170.08,260.60 170.40,255.36 170.73,231.90 171.05,239.72 171.37,241.63 171.70,257.26 172.02,251.63 172.34,244.78 172.67,243.61 172.99,253.77 173.31,263.75 173.64,250.13 173.96,250.79 174.28,259.86 174.61,245.06 174.93,234.86 175.25,221.90 175.57,234.02 175.90,250.53 176.22,252.34 176.54,256.25 176.87,250.79 177.19,247.69 177.51,247.82 177.84,237.99 178.16,235.00 178.48,244.02 178.81,241.40 179.13,243.31 179.45,240.19 179.78,253.63 180.10,270.60 180.42,249.94 180.74,245.44 181.07,243.83 181.39,220.60 181.71,264.80 182.04,225.34 182.36,272.50 182.68,253.39 183.01,248.27 183.33,254.50 183.65,256.18 183.98,255.31 184.30,229.40 184.62,258.48 184.95,262.00 185.27,250.15 185.59,252.71 185.91,242.93 186.24,263.45 186.56,255.00 186.88,264.58 187.21,243.77 187.53,232.50 187.85,273.10 188.18,255.04 188.50,241.62 188.82,250.56 189.15,246.84 189.47,262.80 189.79,240.38 190.11,257.66 190.44,229.66 190.76,211.25 191.08,229.00 191.41,258.75 191.73,252.27 192.05,254.30 192.38,248.06 192.70,244.46 193.02,235.00 193.35,243.72 193.67,248.04 193.99,245.48 194.32,237.84 194.64,251.20 194.96,258.75 195.28,253.88 195.61,246.91 195.93,244.50 196.25,226.25 196.58,236.90 196.90,249.43 197.22,243.10 197.55,245.71 197.87,247.31 198.19,253.75 198.52,245.34 198.84,238.83 199.16,239.55 199.49,212.50 199.81,233.14 200.13,231.64 200.45,261.97 200.78,264.66 201.10,217.50 201.42,287.50 201.75,253.98 202.07,233.08 202.39,253.77 202.72,241.37 203.04,226.43 203.36,244.04 203.69,245.44 204.01,255.41 204.33,265.00 204.66,256.62 204.98,255.02 205.30,233.48 205.62,221.90 205.95,258.16 206.27,291.25 206.59,271.03 206.92,249.73 207.24,234.40 207.56,237.70 207.89,246.36 208.21,270.73 208.53,241.03 208.86,223.75 209.18,247.32 209.50,262.50 209.82,265.89 210.15,241.83 210.47,254.81 210.79,243.34 211.12,227.50 211.44,231.60 211.76,272.30 212.09,259.13 212.41,302.50 212.73,250.30 213.06,235.35 213.38,255.63 213.70,261.44 214.03,242.44 214.35,211.25 214.67,245.33 214.99,247.32 215.32,255.32 215.64,256.25 215.96,248.01 216.29,253.46 216.61,244.23 216.93,216.25 217.26,231.66 217.58,253.41 217.90,258.73 218.23,245.11 218.55,246.17 218.87,245.77 219.20,258.10 219.52,262.50 219.84,254.33 220.16,244.83 220.49,220.60 220.81,259.23 221.13,251.36 221.46,242.63 221.78,248.59 222.10,235.35 222.43,242.81 222.75,256.88 223.07,257.50 223.40,257.37 223.72,225.00 224.04,246.04 224.37,247.33 224.69,230.21 225.01,263.75 225.33,250.81 225.66,238.83 225.98,237.68 226.30,244.25 226.63,232.50 226.95,235.99 227.27,242.54 227.60,255.38 227.92,263.10 228.24,256.40 228.57,256.52 228.89,242.55 229.21,231.25 229.54,239.50 229.86,246.85 230.18,251.93 230.50,255.00 230.83,250.10 231.15,244.41 231.47,248.80 231.80,244.10 232.12,237.05 232.44,225.00 232.77,236.59 233.09,243.74 233.41,239.35 233.74,256.25 234.06,239.59 234.38,221.90 234.70,241.98 235.03,253.98 235.35,242.22 235.67,244.45 236.00,225.00 236.32,238.01 236.64,255.38 236.97,247.37 237.29,263.75 237.61,255.41 237.94,242.52 238.26,257.48 238.58,242.55 238.91,239.15 239.23,231.25 239.55,241.08 239.87,248.23 240.20,255.45 240.52,247.64 240.84,250.56 241.17,260.00 241.49,246.24 241.81,236.25 242.14,246.56 242.46,250.57 242.78,261.73 243.11,244.64 243.43,246.31 243.75,265.00 244.08,250.17 244.40,249.91 244.72,241.08 245.04,223.10 245.37,235.49 245.69,254.58 246.01,290.60 246.34,254.23 246.66,266.32 246.98,238.79 247.31,230.00 247.63,233.35 247.95,253.36 248.28,248.91 248.60,234.53 248.92,257.14 249.25,275.00 249.57,245.59 249.89,226.25 250.21,262.01 250.54,250.30 250.86,246.13 251.18,243.44 251.51,249.47 251.83,256.25 252.15,248.45 252.48,253.25 252.80,242.49 253.12,230.00 253.45,242.82 253.77,248.63 254.09,258.75 254.41,250.44 254.74,252.04 255.06,248.08 255.38,250.81 255.71,243.66 256.03,244.22 256.35,239.90 256.68,257.57 257.00,243.64 257.32,230.00 257.65,269.40 257.97,253.76 258.29,257.42 258.62,250.16 258.94,242.31 259.26,255.70 259.58,255.15 259.91,252.23 260.23,251.69 260.55,256.25 260.88,247.05 261.20,235.00 261.52,242.18 261.85,255.11 262.17,250.16 262.49,259.60 262.82,234.22 263.14,251.56 263.46,253.54 263.79,244.64 264.11,250.20 264.43,241.17 264.75,224.10 265.08,236.89 265.40,245.97 265.72,254.31 266.05,259.60 266.37,250.39 266.69,247.54 267.02,248.38 267.34,254.07 267.66,239.89 267.99,238.12 268.31,247.82 268.63,236.15 268.96,229.50 269.28,243.94 269.60,250.10 269.92,240.14 270.25,261.00 270.57,235.95 270.89,250.33 271.22,237.57 271.54,239.54 271.86,246.56 272.19,232.30 272.51,240.98 272.83,244.64 273.16,249.39 273.48,246.73 273.80,246.86 274.12,251.95 274.45,256.80 274.77,249.33 275.09,244.52 275.42,252.60 275.74,236.40 276.06,254.03 276.39,246.80 276.71,246.00 277.03,252.79 277.36,244.15 277.68,257.69 278.00,264.30 278.33,249.32 278.65,246.30 278.97,245.98 279.29,247.86 279.62,218.60 279.94,237.25 280.26,247.10 280.59,231.28 280.91,248.34 281.23,246.96 281.56,241.41 281.88,250.65 282.20,240.60 282.53,235.00 282.85,252.00 283.17,241.34 283.50,251.28 283.82,252.76 284.14,238.80 284.46,238.02 284.79,250.77 285.11,258.00 285.43,231.60 285.76,220.00 286.08,239.88 286.40,245.78 286.73,254.04 287.05,250.27 287.37,262.08 287.70,258.72 288.02,252.79 288.34,255.34 288.67,267.75 288.99,253.77 289.31,238.38 289.63,252.45 289.96,247.41 290.28,254.29 290.60,232.30 290.93,252.70 291.25,248.41" fill="none" stroke="#90d8f0" stroke-width="2.0" stroke-opacity="0.6" stroke-linejoin="round"/>
<polyline points="128.40,269.41 128.72,203.05 129.05,227.27 129.37,190.00 129.69,232.25 130.02,271.90 130.34,219.75 130.66,244.22 130.98,237.90 131.31,229.40 131.63,242.67 131.95,243.48 132.28,243.97 132.60,235.71 132.92,208.75 133.25,236.83 133.57,256.12 133.89,267.50 134.22,256.79 134.54,245.12 134.86,241.85 135.19,223.75 135.51,240.37 135.83,242.03 136.15,234.61 136.48,203.00 136.80,241.44 137.12,253.75 137.45,244.62 137.77,242.39 138.09,218.75 138.42,239.03 138.74,256.61 139.06,255.92 139.39,280.00 139.71,265.92 140.03,226.13 140.36,259.59 140.68,235.10 141.00,228.61 141.32,250.47 141.65,255.86 141.97,229.40 142.29,233.06 142.62,247.34 142.94,256.50 143.26,295.00 143.59,261.04 143.91,249.48 144.23,260.77 144.56,244.54 144.88,236.32 145.20,253.48 145.53,245.28 145.85,230.60 146.17,238.75 146.49,249.44 146.82,224.72 147.14,272.50 147.46,253.61 147.79,228.19 148.11,213.00 148.43,228.87 148.76,254.08 149.08,230.00 149.40,240.26 149.73,247.20 150.05,235.00 150.37,260.00 150.69,247.48 151.02,249.36 151.34,242.19 151.66,260.66 151.99,223.75 152.31,249.94 152.63,270.60 152.96,260.87 153.28,246.79 153.60,243.35 153.93,230.23 154.25,263.36 154.57,254.30 154.90,254.28 155.22,257.96 155.54,237.92 155.86,221.90 156.19,232.76 156.51,239.72 156.83,259.18 157.16,266.25 157.48,251.44 157.80,244.06 158.13,249.09 158.45,252.43 158.77,235.03 159.10,230.43 159.42,229.40 159.74,259.35 160.07,254.98 160.39,249.35 160.71,243.43 161.03,254.65 161.36,284.40 161.68,264.56 162.00,238.23 162.33,244.08 162.65,225.60 162.97,246.16 163.30,248.81 163.62,262.52 163.94,256.23 164.27,254.81 164.59,256.25 164.91,246.20 165.24,237.50 165.56,244.64 165.88,237.05 166.20,252.84 166.53,252.57 166.85,239.89 167.17,248.61 167.50,261.25 167.82,244.43 168.14,231.25 168.47,259.62 168.79,245.77 169.11,251.74 169.44,247.95 169.76,257.74 170.08,260.60 170.40,255.36 170.73,231.90 171.05,239.72 171.37,241.63 171.70,257.26 172.02,251.63 172.34,244.78 172.67,243.61 172.99,253.77 173.31,263.75 173.64,250.13 173.96,250.79 174.28,259.86 174.61,245.06 174.93,234.86 175.25,221.90 175.57,234.02 175.90,250.53 176.22,252.34 176.54,256.25 176.87,250.79 177.19,247.69 177.51,247.82 177.84,237.99 178.16,235.00 178.48,244.02 178.81,241.40 179.13,243.31 179.45,240.19 179.78,253.63 180.10,270.60 180.42,249.94 180.74,245.44 181.07,243.83 181.39,220.60 181.71,264.80 182.04,225.34 182.36,272.50 182.68,253.39 183.01,248.27 183.33,254.50 183.65,256.18 183.98,255.31 184.30,229.40 184.62,258.48 184.95,262.00 185.27,250.15 185.59,252.71 185.91,242.93 186.24,263.45 186.56,255.00 186.88,264.58 187.21,243.77 187.53,232.50 187.85,273.10 188.18,255.04 188.50,241.62 188.82,250.56 189.15,246.84 189.47,262.80 189.79,240.38 190.11,257.66 190.44,229.66 190.76,211.25 191.08,229.00 191.41,258.75 191.73,252.27 192.05,254.30 192.38,248.06 192.70,244.46 193.02,235.00 193.35,243.72 193.67,248.04 193.99,245.48 194.32,237.84 194.64,251.20 194.96,258.75 195.28,253.88 195.61,246.91 195.93,244.50 196.25,226.25 196.58,236.90 196.90,249.43 197.22,243.10 197.55,245.71 197.87,247.31 198.19,253.75 198.52,245.34 198.84,238.83 199.16,239.55 199.49,212.50 199.81,233.14 200.13,231.64 200.45,261.97 200.78,264.66 201.10,217.50 201.42,287.50 201.75,253.98 202.07,233.08 202.39,253.77 202.72,241.37 203.04,226.43 203.36,244.04 203.69,245.44 204.01,255.41 204.33,265.00 204.66,256.62 204.98,255.02 205.30,233.48 205.62,221.90 205.95,258.16 206.27,291.25 206.59,271.03 206.92,249.73 207.24,234.40 207.56,237.70 207.89,246.36 208.21,270.73 208.53,241.03 208.86,223.75 209.18,247.32 209.50,262.50 209.82,265.89 210.15,241.83 210.47,254.81 210.79,243.34 211.12,227.50 211.44,231.60 211.76,272.30 212.09,259.13 212.41,302.50 212.73,250.30 213.06,235.35 213.38,255.63 213.70,261.44 214.03,242.44 214.35,211.25 214.67,245.33 214.99,247.32 215.32,255.32 215.64,256.25 215.96,248.01 216.29,253.46 216.61,244.23 216.93,216.25 217.26,231.66 217.58,253.41 217.90,258.73 218.23,245.11 218.55,246.17 218.87,245.77 219.20,258.10 219.52,262.50 219.84,254.33 220.16,244.83 220.49,220.60 220.81,259.23 221.13,251.36 221.46,242.63 221.78,248.59 222.10,235.35 222.43,242.81 222.75,256.88 223.07,257.50 223.40,257.37 223.72,225.00 224.04,246.04 224.37,247.33 224.69,230.21 225.01,263.75 225.33,250.81 225.66,238.83 225.98,237.68 226.30,244.25 226.63,232.50 226.95,235.99 227.27,242.54 227.60,255.38 227.92,263.10 228.24,256.40 228.57,256.52 228.89,242.55 229.21,231.25 229.54,239.50 229.86,246.85 230.18,251.93 230.50,255.00 230.83,250.10 231.15,244.41 231.47,248.80 231.80,244.10 232.12,237.05 232.44,225.00 232.77,236.59 233.09,243.74 233.41,239.35 233.74,256.25 234.06,239.59 234.38,221.90 234.70,241.98 235.03,253.98 235.35,242.22 235.67,244.45 236.00,225.00 236.32,238.01 236.64,255.38 236.97,247.37 237.29,263.75 237.61,255.41 237.94,242.52 238.26,257.48 238.58,242.55 238.91,239.15 239.23,231.25 239.55,241.08 239.87,248.23 240.20,255.45 240.52,247.64 240.84,250.56 241.17,260.00 241.49,246.24 241.81,236.25 242.14,246.56 242.46,250.57 242.78,261.73 243.11,244.64 243.43,246.31 243.75,265.00 244.08,250.17 244.40,249.91 244.72,241.08 245.04,223.10 245.37,235.49 245.69,254.58 246.01,290.60 246.34,254.23 246.66,266.32 246.98,238.79 247.31,230.00 247.63,233.35 247.95,253.36 248.28,248.91 248.60,234.53 248.92,257.14 249.25,275.00 249.57,245.59 249.89,226.25 250.21,262.01 250.54,250.30 250.86,246.13 251.18,243.44 251.51,249.47 251.83,256.25 252.15,248.45 252.48,253.25 252.80,242.49 253.12,230.00 253.45,242.82 253.77,248.63 254.09,258.75 254.41,250.44 254.74,252.04 255.06,248.08 255.38,250.81 255.71,243.66 256.03,244.22 256.35,239.90 256.68,257.57 257.00,243.64 257.32,230.00 257.65,269.40 257.97,253.76 258.29,257.42 258.62,250.16 258.94,242.31 259.26,255.70 259.58,255.15 259.91,252.23 260.23,251.69 260.55,256.25 260.88,247.05 261.20,235.00 261.52,242.18 261.85,255.11 262.17,250.16 262.49,259.60 262.82,234.22 263.14,251.56 263.46,253.54 263.79,244.64 264.11,250.20 264.43,241.17 264.75,224.10 265.08,236.89 265.40,245.97 265.72,254.31 266.05,259.60 266.37,250.39 266.69,247.54 267.02,248.38 267.34,254.07 267.66,239.89 267.99,238.12 268.31,247.82 268.63,236.15 268.96,229.50 269.28,243.94 269.60,250.10 269.92,240.14 270.25,261.00 270.57,235.95 270.89,250.33 271.22,237.57 271.54,239.54 271.86,246.56 272.19,232.30 272.51,240.98 272.83,244.64 273.16,249.39 273.48,246.73 273.80,246.86 274.12,251.95 274.45,256.80 274.77,249.33 275.09,244.52 275.42,252.60 275.74,236.40 276.06,254.03 276.39,246.80 276.71,246.00 277.03,252.79 277.36,244.15 277.68,257.69 278.00,264.30 278.33,249.32 278.65,246.30 278.97,245.98 279.29,247.86 279.62,218.60 279.94,237.25 280.26,247.10 280.59,231.28 280.91,248.34 281.23,246.96 281.56,241.41 281.88,250.65 282.20,240.60 282.53,235.00 282.85,252.00 283.17,241.34 283.50,251.28 283.82,252.76 284.14,238.80 284.46,238.02 284.79,250.77 285.11,258.00 285.43,231.60 285.76,220.00 286.08,239.88 286.40,245.78 286.73,254.04 287.05,250.27 287.37,262.08 287.70,258.72 288.02,252.79 288.34,255.34 288.67,267.75 288.99,253.77 289.31,238.38 289.63,252.45 289.96,247.41 290.28,254.29 290.60,232.30 290.93,252.70 291.25,248.41" fill="none" stroke="#0070a2" stroke-width="0.85" stroke-opacity="0.7" stroke-linejoin="round"/>
<path d="M40.88,380V509.8M56.75,380V509.8M72.62,380V509.8M88.50,380V509.8M104.38,380V509.8M120.25,380V509.8M136.12,380V509.8M152.00,380V509.8M167.88,380V509.8M25,401.63H183.75M25,423.27H183.75M25,444.90H183.75M25,466.53H183.75M25,488.17H183.75" stroke="#dedede" stroke-width="0.5" fill="none"/>
<rect x="25" y="380" width="158.75" height="129.80" fill="none" stroke="#7a7a7a" stroke-width="0.8"/>
<path d="M25.00,509.8v-1.5M25.00,380v1.5M40.88,509.8v-1.5M40.88,380v1.5M56.75,509.8v-1.5M56.75,380v1.5M72.62,509.8v-1.5M72.62,380v1.5M88.50,509.8v-1.5M88.50,380v1.5M104.38,509.8v-1.5M104.38,380v1.5M120.25,509.8v-1.5M120.25,380v1.5M136.12,509.8v-1.5M136.12,380v1.5M152.00,509.8v-1.5M152.00,380v1.5M167.88,509.8v-1.5M167.88,380v1.5M183.75,509.8v-1.5M183.75,380v1.5M25,380.00h1.5M183.75,380.00h-1.5M25,401.63h1.5M183.75,401.63h-1.5M25,423.27h1.5M183.75,423.27h-1.5M25,444.90h1.5M183.75,444.90h-1.5M25,466.53h1.5M183.75,466.53h-1.5M25,488.17h1.5M183.75,488.17h-1.5M25,509.80h1.5M183.75,509.80h-1.5" stroke="#7a7a7a" stroke-width="0.5" fill="none"/>
<path d="M25,488.17H183.75" stroke="#a0a0a8" stroke-width="1.2"/>
<path d="M28.97,478.16H183.75M28.97,498.17H183.75" stroke="#a0a0a8" stroke-width="1.3"/>
<path d="M32.94,488.17V488.38M40.88,488.17V494.12M48.81,488.17V495.95M56.75,488.17V498.55M64.69,488.17V488.17M72.62,488.17V478.86M80.56,488.17V491.30M88.50,488.17V492.49M96.44,488.17V489.25M104.38,488.17V489.46M112.31,488.17V487.30M120.25,488.17V482.33M128.19,488.17V490.65M136.12,488.17V498.55M144.06,488.17V484.49M152.00,488.17V484.06M159.94,488.17V485.68M167.88,488.17V482.97M175.81,488.17V493.14M183.75,488.17V490.33" stroke="#c88898" stroke-width="0.6" fill="none"/>
<path d="M25.00,488.17V380.00" stroke="#eaaab8" stroke-width="1.1" fill="none"/>
<circle cx="25.00" cy="380.00" r="1.25" fill="#b0141e"/>
<circle cx="32.94" cy="488.38" r="1.25" fill="#b0141e"/>
<circle cx="40.88" cy="494.12" r="1.25" fill="#b0141e"/>
<circle cx="48.81" cy="495.95" r="1.25" fill="#b0141e"/>
<circle cx="56.75" cy="498.55" r="1.25" fill="#b0141e"/>
<circle cx="64.69" cy="488.17" r="1.25" fill="#b0141e"/>
<circle cx="72.62" cy="478.86" r="1.25" fill="#b0141e"/>
<circle cx="80.56" cy="491.30" r="1.25" fill="#b0141e"/>
<circle cx="88.50" cy="492.49" r="1.25" fill="#b0141e"/>
<circle cx="96.44" cy="489.25" r="1.25" fill="#b0141e"/>
<circle cx="104.38" cy="489.46" r="1.25" fill="#b0141e"/>
<circle cx="112.31" cy="487.30" r="1.25" fill="#b0141e"/>
<circle cx="120.25" cy="482.33" r="1.25" fill="#b0141e"/>
<circle cx="128.19" cy="490.65" r="1.25" fill="#b0141e"/>
<circle cx="136.12" cy="498.55" r="1.25" fill="#b0141e"/>
<circle cx="144.06" cy="484.49" r="1.25" fill="#b0141e"/>
<circle cx="152.00" cy="484.06" r="1.25" fill="#b0141e"/>
<circle cx="159.94" cy="485.68" r="1.25" fill="#b0141e"/>
<circle cx="167.88" cy="482.97" r="1.25" fill="#b0141e"/>
<circle cx="175.81" cy="493.14" r="1.25" fill="#b0141e"/>
<circle cx="183.75" cy="490.33" r="1.25" fill="#b0141e"/>
<path d="M253.50,377.1V511.4M268.50,377.1V511.4M283.50,377.1V511.4M298.50,377.1V511.4M313.50,377.1V511.4M328.50,377.1V511.4M343.50,377.1V511.4M358.50,377.1V511.4M373.50,377.1V511.4M238.5,399.48H388.5M238.5,421.87H388.5M238.5,444.25H388.5M238.5,466.63H388.5M238.5,489.02H388.5" stroke="#dedede" stroke-width="0.5" fill="none"/>
<rect x="238.5" y="377.1" width="150.00" height="134.30" fill="none" stroke="#7a7a7a" stroke-width="0.8"/>
<path d="M238.50,511.4v-1.5M238.50,377.1v1.5M253.50,511.4v-1.5M253.50,377.1v1.5M268.50,511.4v-1.5M268.50,377.1v1.5M283.50,511.4v-1.5M283.50,377.1v1.5M298.50,511.4v-1.5M298.50,377.1v1.5M313.50,511.4v-1.5M313.50,377.1v1.5M328.50,511.4v-1.5M328.50,377.1v1.5M343.50,511.4v-1.5M343.50,377.1v1.5M358.50,511.4v-1.5M358.50,377.1v1.5M373.50,511.4v-1.5M373.50,377.1v1.5M388.50,511.4v-1.5M388.50,377.1v1.5M238.5,377.10h1.5M388.5,377.10h-1.5M238.5,399.48h1.5M388.5,399.48h-1.5M238.5,421.87h1.5M388.5,421.87h-1.5M238.5,444.25h1.5M388.5,444.25h-1.5M238.5,466.63h1.5M388.5,466.63h-1.5M238.5,489.02h1.5M388.5,489.02h-1.5M238.5,511.40h1.5M388.5,511.40h-1.5" stroke="#7a7a7a" stroke-width="0.5" fill="none"/>
<path d="M238.5,489.02H388.5" stroke="#8a8a8a" stroke-width="1.2"/>
<path d="M242.25,478.61H388.5M242.25,499.42H388.5" stroke="#8e8ab4" stroke-width="1.3"/>
<path d="M246.00,489.02V464.17M253.50,489.02V463.16M261.00,489.02V460.93M268.50,489.02V475.81M276.00,489.02V481.63M283.50,489.02V481.85M291.00,489.02V480.62M298.50,489.02V482.19M306.00,489.02V481.41M313.50,489.02V484.32M321.00,489.02V483.42M328.50,489.02V488.57M336.00,489.02V485.44M343.50,489.02V490.58M351.00,489.02V488.12M358.50,489.02V482.19M366.00,489.02V490.58M373.50,489.02V482.19M381.00,489.02V478.94M388.50,489.02V485.66" stroke="#a87080" stroke-width="0.6" fill="none"/>
<path d="M238.50,489.02V377.10" stroke="#eaaab8" stroke-width="1.1" fill="none"/>
<circle cx="238.50" cy="377.10" r="1.25" fill="#b4141e"/>
<circle cx="246.00" cy="464.17" r="1.25" fill="#b4141e"/>
<circle cx="253.50" cy="463.16" r="1.25" fill="#b4141e"/>
<circle cx="261.00" cy="460.93" r="1.25" fill="#b4141e"/>
<circle cx="268.50" cy="475.81" r="1.25" fill="#b4141e"/>
<circle cx="276.00" cy="481.63" r="1.25" fill="#b4141e"/>
<circle cx="283.50" cy="481.85" r="1.25" fill="#b4141e"/>
<circle cx="291.00" cy="480.62" r="1.25" fill="#b4141e"/>
<circle cx="298.50" cy="482.19" r="1.25" fill="#b4141e"/>
<circle cx="306.00" cy="481.41" r="1.25" fill="#b4141e"/>
<circle cx="313.50" cy="484.32" r="1.25" fill="#b4141e"/>
<circle cx="321.00" cy="483.42" r="1.25" fill="#b4141e"/>
<circle cx="328.50" cy="488.57" r="1.25" fill="#b4141e"/>
<circle cx="336.00" cy="485.44" r="1.25" fill="#b4141e"/>
<circle cx="343.50" cy="490.58" r="1.25" fill="#b4141e"/>
<circle cx="351.00" cy="488.12" r="1.25" fill="#b4141e"/>
<circle cx="358.50" cy="482.19" r="1.25" fill="#b4141e"/>
<circle cx="366.00" cy="490.58" r="1.25" fill="#b4141e"/>
<circle cx="373.50" cy="482.19" r="1.25" fill="#b4141e"/>
<circle cx="381.00" cy="478.94" r="1.25" fill="#b4141e"/>
<circle cx="388.50" cy="485.66" r="1.25" fill="#b4141e"/>
</g>
<g opacity="0.999" filter="url(#bl)">
<text transform="translate(20.70,8.40) scale(0.86,1)" font-size="5.1" text-anchor="end" font-family="Liberation Sans" fill="#444444" stroke="#444444" stroke-width="0.16" >0.05</text>
<text transform="translate(20.70,21.00) scale(0.86,1)" font-size="5.1" text-anchor="end" font-family="Liberation Sans" fill="#444444" stroke="#444444" stroke-width="0.16" >0.04</text>
<text transform="translate(20.70,33.60) scale(0.86,1)" font-size="5.1" text-anchor="end" font-family="Liberation Sans" fill="#444444" stroke="#444444" stroke-width="0.16" >0.03</text>
<text transform="translate(20.70,46.20) scale(0.86,1)" font-size="5.1" text-anchor="end" font-family="Liberation Sans" fill="#444444" stroke="#444444" stroke-width="0.16" >0.02</text>
<text transform="translate(20.70,58.80) scale(0.86,1)" font-size="5.1" text-anchor="end" font-family="Liberation Sans" fill="#444444" stroke="#444444" stroke-width="0.16" >0.01</text>
<text transform="translate(20.70,71.40) scale(0.86,1)" font-size="5.1" text-anchor="end" font-family="Liberation Sans" fill="#444444" stroke="#444444" stroke-width="0.16" >0</text>
<text transform="translate(20.70,84.00) scale(0.86,1)" font-size="5.1" text-anchor="end" font-family="Liberation Sans" fill="#444444" stroke="#444444" stroke-width="0.16" >-0.01</text>
<text transform="translate(20.70,96.60) scale(0.86,1)" font-size="5.1" text-anchor="end" font-family="Liberation Sans" fill="#444444" stroke="#444444" stroke-width="0.16" >-0.02</text>
<text transform="translate(20.70,109.20) scale(0.86,1)" font-size="5.1" text-anchor="end" font-family="Liberation Sans" fill="#444444" stroke="#444444" stroke-width="0.16" >-0.03</text>
<text transform="translate(20.70,121.80) scale(0.86,1)" font-size="5.1" text-anchor="end" font-family="Liberation Sans" fill="#444444" stroke="#444444" stroke-width="0.16" >-0.04</text>
<text transform="translate(20.70,134.40) scale(0.86,1)" font-size="5.1" text-anchor="end" font-family="Liberation Sans" fill="#444444" stroke="#444444" stroke-width="0.16" >-0.05</text>
<text transform="translate(23.10,139.70) scale(0.86,1)" font-size="5.1" text-anchor="middle" font-family="Liberation Sans" fill="#444444" stroke="#444444" stroke-width="0.16" >Q1-15</text>
<text transform="translate(41.88,139.70) scale(0.86,1)" font-size="5.1" text-anchor="middle" font-family="Liberation Sans" fill="#444444" stroke="#444444" stroke-width="0.16" >Q2-15</text>
<text transform="translate(60.65,139.70) scale(0.86,1)" font-size="5.1" text-anchor="middle" font-family="Liberation Sans" fill="#444444" stroke="#444444" stroke-width="0.16" >Q3-15</text>
<text transform="translate(79.43,139.70) scale(0.86,1)" font-size="5.1" text-anchor="middle" font-family="Liberation Sans" fill="#444444" stroke="#444444" stroke-width="0.16" >Q4-15</text>
<text transform="translate(98.20,139.70) scale(0.86,1)" font-size="5.1" text-anchor="middle" font-family="Liberation Sans" fill="#444444" stroke="#444444" stroke-width="0.16" >Q1-16</text>
<text transform="translate(116.98,139.70) scale(0.86,1)" font-size="5.1" text-anchor="middle" font-family="Liberation Sans" fill="#444444" stroke="#444444" stroke-width="0.16" >Q2-16</text>
<text transform="translate(135.75,139.70) scale(0.86,1)" font-size="5.1" text-anchor="middle" font-family="Liberation Sans" fill="#444444" stroke="#444444" stroke-width="0.16" >Q3-16</text>
<text transform="translate(154.53,139.70) scale(0.86,1)" font-size="5.1" text-anchor="middle" font-family="Liberation Sans" fill="#444444" stroke="#444444" stroke-width="0.16" >Q4-16</text>
<text transform="translate(173.30,139.70) scale(0.86,1)" font-size="5.1" text-anchor="middle" font-family="Liberation Sans" fill="#444444" stroke="#444444" stroke-width="0.16" >Q1-17</text>
<text transform="translate(98.20,147.30) scale(0.86,1)" font-size="5.8" text-anchor="middle" font-family="Liberation Sans" fill="#444444" stroke="#444444" stroke-width="0.16" >Date</text>
<text x="8.30" y="69.50" font-size="5.8" text-anchor="middle" font-family="Liberation Sans" fill="#444444" stroke="#444444" stroke-width="0.16" transform="rotate(-90 8.30 69.50)">Return</text>
<text transform="translate(236.80,8.80) scale(0.86,1)" font-size="5.1" text-anchor="end" font-family="Liberation Sans" fill="#444444" stroke="#444444" stroke-width="0.16" >0.08</text>
<text transform="translate(236.80,21.40) scale(0.86,1)" font-size="5.1" text-anchor="end" font-family="Liberation Sans" fill="#444444" stroke="#444444" stroke-width="0.16" >0.06</text>
<text transform="translate(236.80,34.00) scale(0.86,1)" font-size="5.1" text-anchor="end" font-family="Liberation Sans" fill="#444444" stroke="#444444" stroke-width="0.16" >0.04</text>
<text transform="translate(236.80,46.60) scale(0.86,1)" font-size="5.1" text-anchor="end" font-family="Liberation Sans" fill="#444444" stroke="#444444" stroke-width="0.16" >0.02</text>
<text transform="translate(236.80,59.20) scale(0.86,1)" font-size="5.1" text-anchor="end" font-family="Liberation Sans" fill="#444444" stroke="#444444" stroke-width="0.16" >0</text>
<text transform="translate(236.80,71.80) scale(0.86,1)" font-size="5.1" text-anchor="end" font-family="Liberation Sans" fill="#444444" stroke="#444444" stroke-width="0.16" >-0.02</text>
<text transform="translate(236.80,84.40) scale(0.86,1)" font-size="5.1" text-anchor="end" font-family="Liberation Sans" fill="#444444" stroke="#444444" stroke-width="0.16" >-0.04</text>
<text transform="translate(236.80,97.00) scale(0.86,1)" font-size="5.1" text-anchor="end" font-family="Liberation Sans" fill="#444444" stroke="#444444" stroke-width="0.16" >-0.06</text>
<text transform="translate(236.80,109.60) scale(0.86,1)" font-size="5.1" text-anchor="end" font-family="Liberation Sans" fill="#444444" stroke="#444444" stroke-width="0.16" >-0.08</text>
<text transform="translate(236.80,122.20) scale(0.86,1)" font-size="5.1" text-anchor="end" font-family="Liberation Sans" fill="#444444" stroke="#444444" stroke-width="0.16" >-0.1</text>
<text transform="translate(236.80,134.80) scale(0.86,1)" font-size="5.1" text-anchor="end" font-family="Liberation Sans" fill="#444444" stroke="#444444" stroke-width="0.16" >-0.12</text>
<text transform="translate(238.50,140.10) scale(0.86,1)" font-size="5.1" text-anchor="middle" font-family="Liberation Sans" fill="#444444" stroke="#444444" stroke-width="0.16" >Q1-15</text>
<text transform="translate(257.28,140.10) scale(0.86,1)" font-size="5.1" text-anchor="middle" font-family="Liberation Sans" fill="#444444" stroke="#444444" stroke-width="0.16" >Q2-15</text>
<text transform="translate(276.06,140.10) scale(0.86,1)" font-size="5.1" text-anchor="middle" font-family="Liberation Sans" fill="#444444" stroke="#444444" stroke-width="0.16" >Q3-15</text>
<text transform="translate(294.84,140.10) scale(0.86,1)" font-size="5.1" text-anchor="middle" font-family="Liberation Sans" fill="#444444" stroke="#444444" stroke-width="0.16" >Q4-15</text>
<text transform="translate(313.62,140.10) scale(0.86,1)" font-size="5.1" text-anchor="middle" font-family="Liberation Sans" fill="#444444" stroke="#444444" stroke-width="0.16" >Q1-16</text>
<text transform="translate(332.41,140.10) scale(0.86,1)" font-size="5.1" text-anchor="middle" font-family="Liberation Sans" fill="#444444" stroke="#444444" stroke-width="0.16" >Q2-16</text>
<text transform="translate(351.19,140.10) scale(0.86,1)" font-size="5.1" text-anchor="middle" font-family="Liberation Sans" fill="#444444" stroke="#444444" stroke-width="0.16" >Q3-16</text>
<text transform="translate(369.97,140.10) scale(0.86,1)" font-size="5.1" text-anchor="middle" font-family="Liberation Sans" fill="#444444" stroke="#444444" stroke-width="0.16" >Q4-16</text>
<text transform="translate(388.75,140.10) scale(0.86,1)" font-size="5.1" text-anchor="middle" font-family="Liberation Sans" fill="#444444" stroke="#444444" stroke-width="0.16" >Q1-17</text>
<text transform="translate(313.62,147.70) scale(0.86,1)" font-size="5.8" text-anchor="middle" font-family="Liberation Sans" fill="#444444" stroke="#444444" stroke-width="0.16" >Date</text>
<text x="224.10" y="69.90" font-size="5.8" text-anchor="middle" font-family="Liberation Sans" fill="#444444" stroke="#444444" stroke-width="0.16" transform="rotate(-90 224.10 69.90)">Return</text>
<text transform="translate(126.00,184.40) scale(0.86,1)" font-size="5.1" text-anchor="end" font-family="Liberation Sans" fill="#444444" stroke="#444444" stroke-width="0.16" >0.05</text>
<text transform="translate(126.00,197.30) scale(0.86,1)" font-size="5.1" text-anchor="end" font-family="Liberation Sans" fill="#444444" stroke="#444444" stroke-width="0.16" >0.04</text>
<text transform="translate(126.00,210.20) scale(0.86,1)" font-size="5.1" text-anchor="end" font-family="Liberation Sans" fill="#444444" stroke="#444444" stroke-width="0.16" >0.03</text>
<text transform="translate(126.00,223.10) scale(0.86,1)" font-size="5.1" text-anchor="end" font-family="Liberation Sans" fill="#444444" stroke="#444444" stroke-width="0.16" >0.02</text>
<text transform="translate(126.00,236.00) scale(0.86,1)" font-size="5.1" text-anchor="end" font-family="Liberation Sans" fill="#444444" stroke="#444444" stroke-width="0.16" >0.01</text>
<text transform="translate(126.00,248.90) scale(0.86,1)" font-size="5.1" text-anchor="end" font-family="Liberation Sans" fill="#444444" stroke="#444444" stroke-width="0.16" >0</text>
<text transform="translate(126.00,261.80) scale(0.86,1)" font-size="5.1" text-anchor="end" font-family="Liberation Sans" fill="#444444" stroke="#444444" stroke-width="0.16" >-0.01</text>
<text transform="translate(126.00,274.70) scale(0.86,1)" font-size="5.1" text-anchor="end" font-family="Liberation Sans" fill="#444444" stroke="#444444" stroke-width="0.16" >-0.02</text>
<text transform="translate(126.00,287.60) scale(0.86,1)" font-size="5.1" text-anchor="end" font-family="Liberation Sans" fill="#444444" stroke="#444444" stroke-width="0.16" >-0.03</text>
<text transform="translate(126.00,300.50) scale(0.86,1)" font-size="5.1" text-anchor="end" font-family="Liberation Sans" fill="#444444" stroke="#444444" stroke-width="0.16" >-0.04</text>
<text transform="translate(126.00,313.40) scale(0.86,1)" font-size="5.1" text-anchor="end" font-family="Liberation Sans" fill="#444444" stroke="#444444" stroke-width="0.16" >-0.05</text>
<text transform="translate(128.40,318.70) scale(0.86,1)" font-size="5.1" text-anchor="middle" font-family="Liberation Sans" fill="#444444" stroke="#444444" stroke-width="0.16" >Q1-15</text>
<text transform="translate(148.76,318.70) scale(0.86,1)" font-size="5.1" text-anchor="middle" font-family="Liberation Sans" fill="#444444" stroke="#444444" stroke-width="0.16" >Q2-15</text>
<text transform="translate(169.11,318.70) scale(0.86,1)" font-size="5.1" text-anchor="middle" font-family="Liberation Sans" fill="#444444" stroke="#444444" stroke-width="0.16" >Q3-15</text>
<text transform="translate(189.47,318.70) scale(0.86,1)" font-size="5.1" text-anchor="middle" font-family="Liberation Sans" fill="#444444" stroke="#444444" stroke-width="0.16" >Q4-15</text>
<text transform="translate(209.82,318.70) scale(0.86,1)" font-size="5.1" text-anchor="middle" font-family="Liberation Sans" fill="#444444" stroke="#444444" stroke-width="0.16" >Q1-16</text>
<text transform="translate(230.18,318.70) scale(0.86,1)" font-size="5.1" text-anchor="middle" font-family="Liberation Sans" fill="#444444" stroke="#444444" stroke-width="0.16" >Q2-16</text>
<text transform="translate(250.54,318.70) scale(0.86,1)" font-size="5.1" text-anchor="middle" font-family="Liberation Sans" fill="#444444" stroke="#444444" stroke-width="0.16" >Q3-16</text>
<text transform="translate(270.89,318.70) scale(0.86,1)" font-size="5.1" text-anchor="middle" font-family="Liberation Sans" fill="#444444" stroke="#444444" stroke-width="0.16" >Q4-16</text>
<text transform="translate(291.25,318.70) scale(0.86,1)" font-size="5.1" text-anchor="middle" font-family="Liberation Sans" fill="#444444" stroke="#444444" stroke-width="0.16" >Q1-17</text>
<text transform="translate(209.82,326.30) scale(0.86,1)" font-size="5.8" text-anchor="middle" font-family="Liberation Sans" fill="#444444" stroke="#444444" stroke-width="0.16" >Date</text>
<text x="112.60" y="247.00" font-size="5.8" text-anchor="middle" font-family="Liberation Sans" fill="#444444" stroke="#444444" stroke-width="0.16" transform="rotate(-90 112.60 247.00)">Return</text>
<text transform="translate(22.70,381.90) scale(0.86,1)" font-size="5.1" text-anchor="end" font-family="Liberation Sans" fill="#444444" stroke="#444444" stroke-width="0.16" >1</text>
<text transform="translate(22.70,403.53) scale(0.86,1)" font-size="5.1" text-anchor="end" font-family="Liberation Sans" fill="#444444" stroke="#444444" stroke-width="0.16" >0.8</text>
<text transform="translate(22.70,425.17) scale(0.86,1)" font-size="5.1" text-anchor="end" font-family="Liberation Sans" fill="#444444" stroke="#444444" stroke-width="0.16" >0.6</text>
<text transform="translate(22.70,446.80) scale(0.86,1)" font-size="5.1" text-anchor="end" font-family="Liberation Sans" fill="#444444" stroke="#444444" stroke-width="0.16" >0.4</text>
<text transform="translate(22.70,468.43) scale(0.86,1)" font-size="5.1" text-anchor="end" font-family="Liberation Sans" fill="#444444" stroke="#444444" stroke-width="0.16" >0.2</text>
<text transform="translate(22.70,490.07) scale(0.86,1)" font-size="5.1" text-anchor="end" font-family="Liberation Sans" fill="#444444" stroke="#444444" stroke-width="0.16" >0</text>
<text transform="translate(22.70,511.70) scale(0.86,1)" font-size="5.1" text-anchor="end" font-family="Liberation Sans" fill="#444444" stroke="#444444" stroke-width="0.16" >-0.2</text>
<text transform="translate(25.00,517.00) scale(0.86,1)" font-size="5.1" text-anchor="middle" font-family="Liberation Sans" fill="#444444" stroke="#444444" stroke-width="0.16" >0</text>
<text transform="translate(40.88,517.00) scale(0.86,1)" font-size="5.1" text-anchor="middle" font-family="Liberation Sans" fill="#444444" stroke="#444444" stroke-width="0.16" >2</text>
<text transform="translate(56.75,517.00) scale(0.86,1)" font-size="5.1" text-anchor="middle" font-family="Liberation Sans" fill="#444444" stroke="#444444" stroke-width="0.16" >4</text>
<text transform="translate(72.62,517.00) scale(0.86,1)" font-size="5.1" text-anchor="middle" font-family="Liberation Sans" fill="#444444" stroke="#444444" stroke-width="0.16" >6</text>
<text transform="translate(88.50,517.00) scale(0.86,1)" font-size="5.1" text-anchor="middle" font-family="Liberation Sans" fill="#444444" stroke="#444444" stroke-width="0.16" >8</text>
<text transform="translate(104.38,517.00) scale(0.86,1)" font-size="5.1" text-anchor="middle" font-family="Liberation Sans" fill="#444444" stroke="#444444" stroke-width="0.16" >10</text>
<text transform="translate(120.25,517.00) scale(0.86,1)" font-size="5.1" text-anchor="middle" font-family="Liberation Sans" fill="#444444" stroke="#444444" stroke-width="0.16" >12</text>
<text transform="translate(136.12,517.00) scale(0.86,1)" font-size="5.1" text-anchor="middle" font-family="Liberation Sans" fill="#444444" stroke="#444444" stroke-width="0.16" >14</text>
<text transform="translate(152.00,517.00) scale(0.86,1)" font-size="5.1" text-anchor="middle" font-family="Liberation Sans" fill="#444444" stroke="#444444" stroke-width="0.16" >16</text>
<text transform="translate(167.88,517.00) scale(0.86,1)" font-size="5.1" text-anchor="middle" font-family="Liberation Sans" fill="#444444" stroke="#444444" stroke-width="0.16" >18</text>
<text transform="translate(183.75,517.00) scale(0.86,1)" font-size="5.1" text-anchor="middle" font-family="Liberation Sans" fill="#444444" stroke="#444444" stroke-width="0.16" >20</text>
<text transform="translate(104.38,524.60) scale(0.86,1)" font-size="5.8" text-anchor="middle" font-family="Liberation Sans" fill="#444444" stroke="#444444" stroke-width="0.16" >Lag</text>
<text x="11.50" y="444.90" font-size="5.8" text-anchor="middle" font-family="Liberation Sans" fill="#444444" stroke="#444444" stroke-width="0.16" transform="rotate(-90 11.50 444.90)">Sample Autocorrelation</text>
<text transform="translate(236.70,379.00) scale(0.86,1)" font-size="5.1" text-anchor="end" font-family="Liberation Sans" fill="#444444" stroke="#444444" stroke-width="0.16" >1</text>
<text transform="translate(236.70,401.38) scale(0.86,1)" font-size="5.1" text-anchor="end" font-family="Liberation Sans" fill="#444444" stroke="#444444" stroke-width="0.16" >0.8</text>
<text transform="translate(236.70,423.77) scale(0.86,1)" font-size="5.1" text-anchor="end" font-family="Liberation Sans" fill="#444444" stroke="#444444" stroke-width="0.16" >0.6</text>
<text transform="translate(236.70,446.15) scale(0.86,1)" font-size="5.1" text-anchor="end" font-family="Liberation Sans" fill="#444444" stroke="#444444" stroke-width="0.16" >0.4</text>
<text transform="translate(236.70,468.53) scale(0.86,1)" font-size="5.1" text-anchor="end" font-family="Liberation Sans" fill="#444444" stroke="#444444" stroke-width="0.16" >0.2</text>
<text transform="translate(236.70,490.92) scale(0.86,1)" font-size="5.1" text-anchor="end" font-family="Liberation Sans" fill="#444444" stroke="#444444" stroke-width="0.16" >0</text>
<text transform="translate(236.70,513.30) scale(0.86,1)" font-size="5.1" text-anchor="end" font-family="Liberation Sans" fill="#444444" stroke="#444444" stroke-width="0.16" >-0.2</text>
<text transform="translate(238.50,518.60) scale(0.86,1)" font-size="5.1" text-anchor="middle" font-family="Liberation Sans" fill="#444444" stroke="#444444" stroke-width="0.16" >0</text>
<text transform="translate(253.50,518.60) scale(0.86,1)" font-size="5.1" text-anchor="middle" font-family="Liberation Sans" fill="#444444" stroke="#444444" stroke-width="0.16" >2</text>
<text transform="translate(268.50,518.60) scale(0.86,1)" font-size="5.1" text-anchor="middle" font-family="Liberation Sans" fill="#444444" stroke="#444444" stroke-width="0.16" >4</text>
<text transform="translate(283.50,518.60) scale(0.86,1)" font-size="5.1" text-anchor="middle" font-family="Liberation Sans" fill="#444444" stroke="#444444" stroke-width="0.16" >6</text>
<text transform="translate(298.50,518.60) scale(0.86,1)" font-size="5.1" text-anchor="middle" font-family="Liberation Sans" fill="#444444" stroke="#444444" stroke-width="0.16" >8</text>
<text transform="translate(313.50,518.60) scale(0.86,1)" font-size="5.1" text-anchor="middle" font-family="Liberation Sans" fill="#444444" stroke="#444444" stroke-width="0.16" >10</text>
<text transform="translate(328.50,518.60) scale(0.86,1)" font-size="5.1" text-anchor="middle" font-family="Liberation Sans" fill="#444444" stroke="#444444" stroke-width="0.16" >12</text>
<text transform="translate(343.50,518.60) scale(0.86,1)" font-size="5.1" text-anchor="middle" font-family="Liberation Sans" fill="#444444" stroke="#444444" stroke-width="0.16" >14</text>
<text transform="translate(358.50,518.60) scale(0.86,1)" font-size="5.1" text-anchor="middle" font-family="Liberation Sans" fill="#444444" stroke="#444444" stroke-width="0.16" >16</text>
<text transform="translate(373.50,518.60) scale(0.86,1)" font-size="5.1" text-anchor="middle" font-family="Liberation Sans" fill="#444444" stroke="#444444" stroke-width="0.16" >18</text>
<text transform="translate(388.50,518.60) scale(0.86,1)" font-size="5.1" text-anchor="middle" font-family="Liberation Sans" fill="#444444" stroke="#444444" stroke-width="0.16" >20</text>
<text transform="translate(313.50,526.20) scale(0.86,1)" font-size="5.8" text-anchor="middle" font-family="Liberation Sans" fill="#444444" stroke="#444444" stroke-width="0.16" >Lag</text>
<text x="226.60" y="444.25" font-size="5.8" text-anchor="middle" font-family="Liberation Sans" fill="#444444" stroke="#444444" stroke-width="0.16" transform="rotate(-90 226.60 444.25)">Sample Autocorrelation</text>
</g>
<g opacity="0.999">
<text x="17.75" y="162.60" font-size="9.3" text-anchor="start" font-family="Liberation Serif" fill="#1a1a1a" stroke="#1a1a1a" stroke-width="0.08" textLength="146.6" lengthAdjust="spacingAndGlyphs">Daily Logarithmic Returns of S&amp;P 500</text>
<text x="225.60" y="162.50" font-size="9.3" text-anchor="start" font-family="Liberation Serif" fill="#1a1a1a" stroke="#1a1a1a" stroke-width="0.08" textLength="135.6" lengthAdjust="spacingAndGlyphs">Daily Logarithmic Returns of SSEC</text>
<text x="134.40" y="344.70" font-size="9.3" text-anchor="start" font-family="Liberation Serif" fill="#1a1a1a" stroke="#1a1a1a" stroke-width="0.08" textLength="143.6" lengthAdjust="spacingAndGlyphs">Daily Logarithmic Returns of MICEX</text>
<text x="43.00" y="543.40" font-size="9.3" text-anchor="start" font-family="Liberation Serif" fill="#1a1a1a" stroke="#1a1a1a" stroke-width="0.08" textLength="104.2" lengthAdjust="spacingAndGlyphs">ACF of Returns of S&amp;P 500</text>
<text x="241.20" y="543.30" font-size="9.3" text-anchor="start" font-family="Liberation Serif" fill="#1a1a1a" stroke="#1a1a1a" stroke-width="0.08" textLength="138.5" lengthAdjust="spacingAndGlyphs">ACF of Squared Returns of S&amp;P 500</text>
</g>
</svg>
</body></html>
